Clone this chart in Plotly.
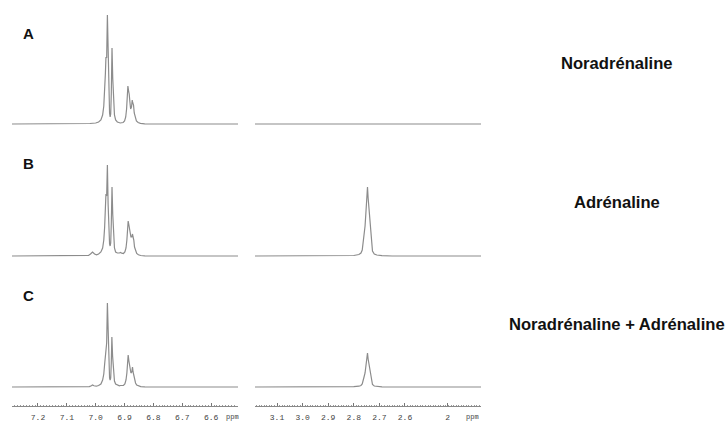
import plotly.graph_objects as go

# ---------------- data ----------------
row_letters = ["A", "B", "C"]
sample_names = ["Noradrénaline", "Adrénaline", "Noradrénaline + Adrénaline"]

# aromatic region (left panels): chemical shift (ppm) and intensity (a.u.)
A_left_ppm = [7.29, 7.10, 7.02, 7.00, 6.99, 6.982, 6.976, 6.972, 6.969, 6.9665, 6.9645, 6.962, 6.9595,
              6.957, 6.9545, 6.952, 6.950, 6.948, 6.946, 6.9435, 6.941, 6.938, 6.935, 6.931, 6.925,
              6.915, 6.905, 6.900, 6.896, 6.893, 6.8905, 6.8885, 6.886, 6.884, 6.8815, 6.879, 6.876,
              6.8735, 6.8715, 6.869, 6.8665, 6.863, 6.859, 6.853, 6.845, 6.83, 6.80, 6.507]
A_left_int = [0, 0, 0.5, 1, 2, 4, 9, 18, 32, 50, 67, 66, 109,
              60, 26, 11, 7, 10, 30, 76, 46, 20, 9, 4, 2,
              1, 1.5, 3, 7, 15, 27, 38, 33, 30, 22, 15, 17,
              24, 21, 19, 11, 6, 3, 1.5, 0.6, 0.2, 0, 0]

B_left_ppm = [7.29, 7.05, 7.025, 7.018, 7.011, 7.004, 6.997, 6.99, 6.982, 6.976, 6.972, 6.969, 6.9665,
              6.9645, 6.962, 6.9595, 6.957, 6.9545, 6.952, 6.950, 6.948, 6.946, 6.9435, 6.941, 6.938,
              6.935, 6.931, 6.925, 6.918, 6.914, 6.910, 6.904, 6.899, 6.895, 6.892, 6.8895, 6.8875,
              6.885, 6.883, 6.8805, 6.878, 6.875, 6.8725, 6.8705, 6.868, 6.8655, 6.862, 6.858, 6.852,
              6.844, 6.83, 6.80, 6.507]
B_left_int = [0, 0, 0.6, 2, 4, 2, 1.2, 2, 4, 8, 16, 29, 45,
              62, 60, 91, 52, 24, 12, 10, 13, 32, 69, 42, 18,
              8, 4, 3, 3, 3.5, 2.8, 2.5, 4, 8, 16, 26, 35,
              31, 27, 22, 19, 19, 22, 19, 16, 9, 5, 2.5, 1.2,
              0.5, 0.2, 0, 0]

C_left_ppm = [7.29, 7.05, 7.022, 7.015, 7.011, 7.006, 6.998, 6.99, 6.982, 6.976, 6.972, 6.969, 6.9665,
              6.9645, 6.962, 6.9595, 6.957, 6.9545, 6.952, 6.950, 6.948, 6.946, 6.944, 6.9415, 6.938,
              6.935, 6.931, 6.925, 6.918, 6.914, 6.910, 6.904, 6.899, 6.895, 6.892, 6.8895, 6.8875,
              6.885, 6.883, 6.8805, 6.878, 6.875, 6.8725, 6.8705, 6.868, 6.8655, 6.862, 6.858, 6.852,
              6.844, 6.83, 6.80, 6.507]
C_left_int = [0, 0, 0.4, 1.2, 2, 1.2, 0.8, 1.5, 3, 7, 13, 23, 34,
              42, 44, 84, 46, 19, 9, 7, 9, 24, 50, 31, 13,
              6, 3, 1.8, 1.2, 1.5, 1.2, 1.5, 3, 7, 14, 23, 32,
              26, 22, 17, 14, 15, 20, 15, 11, 7, 4, 2, 1,
              0.4, 0.2, 0, 0]

# aliphatic region (right panels): N-CH3 signal
A_right_ppm = [3.186, 2.303]
A_right_int = [0, 0]

B_right_ppm = [3.186, 2.85, 2.80, 2.78, 2.772, 2.767, 2.763, 2.759, 2.756, 2.753, 2.7495, 2.7465, 2.744,
               2.741, 2.738, 2.735, 2.731, 2.727, 2.72, 2.71, 2.69, 2.65, 2.303]
B_right_int = [0, 0, 0.5, 1.5, 3, 6, 13, 25, 30, 42, 58, 69, 58,
               47, 40, 24, 11, 5, 2, 1, 0.3, 0, 0]

C_right_ppm = [3.186, 2.85, 2.80, 2.78, 2.772, 2.767, 2.763, 2.759, 2.756, 2.753, 2.7495, 2.7465, 2.744,
               2.741, 2.738, 2.735, 2.731, 2.727, 2.72, 2.71, 2.69, 2.65, 2.303]
C_right_int = [0, 0, 0.3, 0.8, 1.5, 3, 6, 11, 14, 20, 28, 34, 28,
               23, 19, 11, 5, 2.5, 1, 0.5, 0.2, 0, 0]

# axis ticks
left_tickvals = [7.2, 7.1, 7.0, 6.9, 6.8, 6.7, 6.6]
left_ticktext = ["7.2", "7.1", "7.0", "6.9", "6.8", "6.7", "6.6"]
right_tickvals = [3.1, 3.0, 2.9, 2.8, 2.7, 2.6, 2.433]
right_ticktext = ["3.1", "3.0", "2.9", "2.8", "2.7", "2.6", "2"]
left_range = [7.29, 6.507]
right_range = [3.186, 2.303]
unit_label = "ppm"
left_unit_pos = 6.527
right_unit_pos = 2.337

# ---------------- figure ----------------
W, H = 728, 421
LINE = "#8c8c8c"

def px_x(p):
    return p / W

def px_y(p):
    return (H - p) / H

spectra = [
    (A_left_ppm, A_left_int, A_right_ppm, A_right_int),
    (B_left_ppm, B_left_int, B_right_ppm, B_right_int),
    (C_left_ppm, C_left_int, C_right_ppm, C_right_int),
]
baselines_px = [124, 256, 387]
letter_y_px = [33, 164, 295]
name_y_px = [63, 202, 324]

fig = go.Figure()
layout = dict(
    width=W, height=H, margin=dict(l=0, r=0, t=0, b=0),
    paper_bgcolor="white", plot_bgcolor="white", showlegend=False,
)
annotations = []

for i, (lp, li, rp, ri) in enumerate(spectra):
    kl, kr = 2 * i + 1, 2 * i + 2
    sl = "" if kl == 1 else str(kl)
    sr = str(kr)
    fig.add_trace(go.Scatter(x=lp, y=li, mode="lines", xaxis="x" + sl, yaxis="y" + sl,
                             line=dict(color=LINE, width=1.2), hoverinfo="skip"))
    fig.add_trace(go.Scatter(x=rp, y=ri, mode="lines", xaxis="x" + sr, yaxis="y" + sr,
                             line=dict(color=LINE, width=1.2), hoverinfo="skip"))
    b = baselines_px[i]
    ydom = [px_y(b + 5), px_y(b - 115)]
    for k, s, dom, rng, tv, tt in [
        (kl, sl, [px_x(12), px_x(238)], left_range, left_tickvals, left_ticktext),
        (kr, sr, [px_x(255), px_x(481)], right_range, right_tickvals, right_ticktext),
    ]:
        xa = dict(domain=dom, range=rng, showgrid=False, zeroline=False, fixedrange=True)
        if i == 2:
            xa.update(visible=True, anchor="free", position=px_y(406), showline=True,
                      linecolor="#888", linewidth=1, ticks="inside", ticklen=3,
                      tickcolor="#777", tickwidth=1, tickmode="array", tickvals=tv,
                      ticktext=tt, ticklabelstandoff=3,
                      tickfont=dict(family="Liberation Mono", size=8, color="#444"),
                      minor=dict(ticks="inside", ticklen=1.5, dtick=0.01, tick0=0,
                                 tickcolor="#999", tickwidth=1, showgrid=False))
        else:
            xa.update(visible=False)
        layout["xaxis" + s] = xa
        layout["yaxis" + s] = dict(domain=ydom, range=[-5, 115], visible=False,
                                   anchor="x" + s, fixedrange=True)

    annotations.append(dict(text="<b>%s</b>" % row_letters[i], xref="paper", yref="paper",
                            x=px_x(29), y=px_y(letter_y_px[i]), showarrow=False,
                            xanchor="center", yanchor="middle",
                            font=dict(family="Liberation Sans", size=15, color="#111")))
    annotations.append(dict(text="<b>%s</b>" % sample_names[i], xref="paper", yref="paper",
                            x=px_x(617), y=px_y(name_y_px[i]), showarrow=False,
                            xanchor="center", yanchor="middle",
                            font=dict(family="Liberation Sans", size=16.6, color="#111")))

for xr, xv in [("x5", left_unit_pos), ("x6", right_unit_pos)]:
    annotations.append(dict(text=unit_label, xref=xr, yref="paper", x=xv, y=px_y(417),
                            showarrow=False, xanchor="center", yanchor="middle",
                            font=dict(family="Liberation Mono", size=7, color="#444")))

layout["annotations"] = annotations
fig.update_layout(**layout)
fig.write_html("out.html")
